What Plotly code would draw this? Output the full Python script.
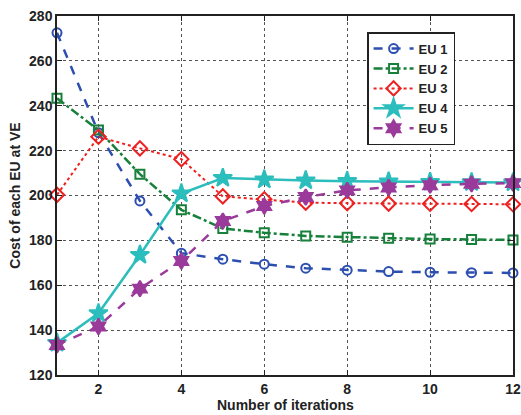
import plotly.graph_objects as go

iterations = list(range(1, 13))
eu1 = [272.5, 228.0, 197.6, 174.3, 171.6, 169.4, 167.6, 166.7, 166.1, 165.8, 165.6, 165.5]
eu2 = [243.3, 229.2, 209.5, 193.6, 185.3, 183.4, 182.0, 181.4, 181.0, 180.6, 180.4, 180.2]
eu3 = [200.3, 226.2, 221.0, 216.2, 199.6, 198.3, 196.8, 196.6, 196.4, 196.3, 196.2, 196.1]
eu4 = [134.3, 147.5, 173.5, 200.9, 207.8, 207.1, 206.7, 206.4, 206.2, 206.0, 205.9, 205.8]
eu5 = [133.4, 141.6, 158.5, 170.8, 188.6, 195.3, 199.3, 202.3, 203.6, 204.6, 205.2, 205.5]
names = ["EU 1", "EU 2", "EU 3", "EU 4", "EU 5"]
x_ticks = [2, 4, 6, 8, 10, 12]
y_ticks = [120, 140, 160, 180, 200, 220, 240, 260, 280]

styles = [
    dict(color="#2c4fb0", dash="dash", symbol="circle-open", size=9, width=2.5),
    dict(color="#17803a", dash="dashdot", symbol="square-open", size=9, width=2.5),
    dict(color="#ee2020", dash="dot", symbol="diamond-open", size=11, width=2),
    dict(color="#2cbdbd", dash="solid", symbol="star", size=14, width=2.5),
    dict(color="#9a3a9a", dash="dash", symbol="hexagram", size=12, width=2.5),
]

fig = go.Figure()
for name, ys, st in zip(names, [eu1, eu2, eu3, eu4, eu5], styles):
    fig.add_trace(go.Scatter(
        x=iterations, y=ys, name=name, mode="lines+markers",
        line=dict(color=st["color"], dash=st["dash"], width=st["width"]),
        marker=dict(symbol=st["symbol"], size=st["size"], color=st["color"],
                    line=dict(color=st["color"], width=2)),
        cliponaxis=False,
    ))

FAM = "Liberation Sans, Arial, sans-serif"
tfont = dict(family=FAM, size=14, color="#222", weight="bold")
titlefont = dict(family=FAM, size=14, color="#222", weight="bold")
axis_common = dict(
    showline=True, linecolor="#222", linewidth=1.5, mirror="ticks",
    ticks="inside", ticklen=5, tickcolor="#222",
    showgrid=True, gridcolor="#555", griddash="dot", gridwidth=1,
    zeroline=False, tickfont=tfont, automargin=False,
)
fig.update_layout(
    width=521, height=415,
    margin=dict(l=57, r=8, t=16, b=40),
    paper_bgcolor="white", plot_bgcolor="white",
    font=dict(family=FAM, size=13, color="#222"),
    showlegend=True,
    legend=dict(x=0.68, y=0.955, xanchor="left", yanchor="top",
                bgcolor="white", bordercolor="#222", borderwidth=1.5,
                font=dict(family=FAM, size=13, color="#222", weight="bold"),
                tracegroupgap=0, itemwidth=40),
    xaxis=dict(range=[1, 12], tickvals=x_ticks, **axis_common),
    yaxis=dict(range=[120, 280], tickvals=y_ticks, **axis_common),
    annotations=[
        dict(text="Number of iterations", xref="paper", yref="paper",
             x=0.5, y=-0.083, xanchor="center", yanchor="middle",
             showarrow=False, font=titlefont),
        dict(text="Cost of each EU at VE", xref="paper", yref="paper",
             x=-0.094, y=0.5, xanchor="center", yanchor="middle", textangle=-90,
             showarrow=False, font=titlefont),
    ],
)
fig.write_html("out.html")
